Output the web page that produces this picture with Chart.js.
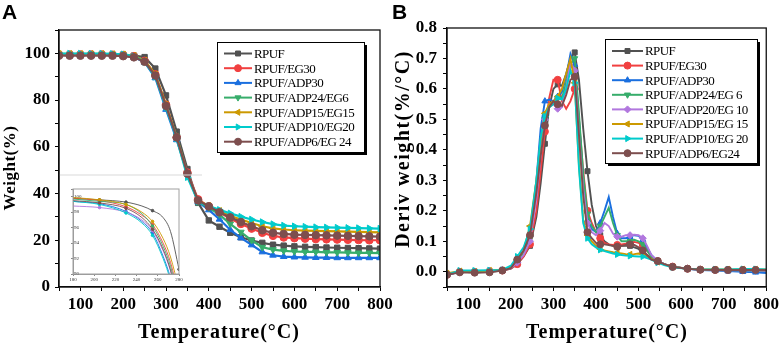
<!DOCTYPE html>
<html>
<head>
<meta charset="utf-8">
<script src="https://cdn.jsdelivr.net/npm/chart.js@4.4.1/dist/chart.umd.min.js"></script>
<style>
  body { margin: 0; background: #fff; }
  #wrap { position: relative; width: 782px; height: 349px; }
  #wrap canvas { position: absolute; left: 0; top: 0; }
  .panel { position: absolute; top: 1px; font: bold 21px "Liberation Sans", Arial, sans-serif; line-height: 21px; color: #000; }
</style>
</head>
<body>
<div id="wrap">
  <canvas id="chartA" width="782" height="349"></canvas>
  <canvas id="chartB" width="782" height="349"></canvas>
  <canvas id="chartInset" width="782" height="349"></canvas>
  <div class="panel" style="left:2px">A</div>
  <div class="panel" style="left:392px">B</div>
</div>
<script>
// ---- panel A: weight (%) vs temperature ----
const tempA = [50, 75, 100, 125, 150, 175, 200, 225, 250, 275, 300, 325, 350, 375, 400, 425, 450, 475, 500, 525, 550, 575, 600, 625, 650, 675, 700, 725, 750, 775, 800];
const rpufA  = [99.4, 99.4, 99.5, 99.5, 99.5, 99.5, 99.4, 99.0, 98.4, 93.5, 82, 66.5, 50.5, 36, 28.5, 25.8, 23.2, 21.3, 19.9, 18.9, 18.1, 17.7, 17.4, 17.2, 17.1, 16.9, 16.8, 16.7, 16.6, 16.5, 16.4];
const eg30A  = [99.5, 99.5, 99.5, 99.5, 99.5, 99.4, 99.3, 98.8, 96.8, 91, 78, 64, 49, 37.5, 34.5, 32, 29.3, 27, 25, 23.2, 21.9, 21.2, 20.9, 20.7, 20.5, 20.4, 20.3, 20.2, 20.1, 20, 20];
const adp30A = [99.3, 99.3, 99.3, 99.3, 99.3, 99.2, 99.1, 98.4, 96.2, 89.5, 76, 63, 48.5, 36.5, 33, 29, 24.5, 21, 18, 15, 13.6, 13, 12.8, 12.7, 12.6, 12.6, 12.5, 12.5, 12.5, 12.5, 12.5];
const adp24A = [99.6, 99.6, 99.6, 99.6, 99.5, 99.5, 99.3, 98.8, 96.6, 90.5, 77, 64.5, 48.5, 36.5, 34, 31, 27, 23.5, 20, 17, 16, 15.5, 15.2, 15, 15, 14.8, 14.8, 14.7, 14.6, 14.6, 14.5];
const adp15A = [99.8, 99.8, 99.8, 99.8, 99.8, 99.7, 99.6, 99, 96.9, 91, 78, 64, 48, 37, 34.7, 32.6, 30.5, 28.9, 27.4, 26, 25.1, 24.6, 24.3, 24.1, 24, 23.9, 23.8, 23.7, 23.6, 23.5, 23.4];
const adp10A = [99.9, 99.9, 99.9, 99.9, 99.9, 99.8, 99.6, 98.8, 96.4, 90, 77, 63.5, 47, 36.5, 34.6, 33, 31.5, 30.1, 28.9, 27.8, 26.9, 26.3, 26, 25.8, 25.6, 25.5, 25.4, 25.3, 25.2, 25.1, 25];
const adp6A  = [99, 99, 99, 99, 99, 99, 98.8, 98.3, 96.4, 90.5, 77.5, 64, 48.5, 37, 34.5, 32, 29.8, 27.8, 26, 24.3, 23.2, 22.7, 22.4, 22.3, 22.2, 22.1, 22, 21.9, 21.8, 21.7, 21.6];
const namesA = ["RPUF", "RPUF/EG30", "RPUF/ADP30", "RPUF/ADP24/EG6", "RPUF/ADP15/EG15", "RPUF/ADP10/EG20", "RPUF/ADP6/EG 24"];

// ---- inset of panel A (180-280 °C) ----
const tempI   = [180, 205, 230, 245, 255, 265, 272, 280];
const rpufI   = [99.8, 99.6, 99.3, 98.8, 98.2, 97.3, 95.5, 90.6];
const eg30I   = [99.8, 99.5, 98.7, 97.6, 96.4, 94.0, 91.5, 87];
const adp30I  = [99.4, 99.1, 98.1, 96.8, 95.3, 92.3, 89.5, 85];
const adp24I  = [99.7, 99.4, 99.0, 97.8, 96.2, 93.6, 91.0, 86.5];
const adp20I  = [98.8, 98.6, 98.0, 97.0, 95.6, 93.0, 90.4, 86];
const adp15I  = [99.9, 99.6, 99.0, 98.0, 96.8, 94.6, 92.2, 88];
const adp10I  = [99.4, 99.0, 97.9, 96.6, 95.0, 92.0, 89.2, 85];
const adp6I   = [99.5, 99.2, 98.5, 97.3, 95.8, 93.2, 90.5, 86];
const marksI  = [205, 230, 255, 280];

// ---- panel B: derivative weight vs temperature ----
const tempB = [50, 80, 115, 150, 180, 200, 215, 230, 245, 260, 270, 280, 290, 300, 310, 320, 330, 340, 350, 360, 370, 380, 390, 400, 410, 420, 430, 440, 450, 460, 470, 480, 490, 500, 510, 520, 530, 545, 560, 580, 615, 645, 680, 710, 745, 775, 800];
const rpufB  = [-0.008, 0, -0.002, 0, 0.004, 0.01, 0.025, 0.05, 0.085, 0.18, 0.29, 0.42, 0.54, 0.6, 0.615, 0.61, 0.65, 0.7, 0.72, 0.63, 0.47, 0.33, 0.22, 0.15, 0.12, 0.1, 0.09, 0.085, 0.085, 0.085, 0.085, 0.085, 0.08, 0.075, 0.065, 0.055, 0.045, 0.035, 0.025, 0.017, 0.01, 0.007, 0.006, 0.005, 0.004, 0.004, 0.003];
const eg30B  = [-0.01, 0, 0, 0.002, 0.004, 0.01, 0.025, 0.05, 0.09, 0.2, 0.33, 0.46, 0.57, 0.63, 0.63, 0.56, 0.535, 0.56, 0.6, 0.5, 0.33, 0.2, 0.16, 0.13, 0.11, 0.095, 0.09, 0.088, 0.088, 0.09, 0.092, 0.095, 0.098, 0.095, 0.088, 0.07, 0.05, 0.035, 0.025, 0.017, 0.01, 0.007, 0.006, 0.006, 0.005, 0.005, 0.004];
const adp30B = [-0.01, 0, 0, 0.002, 0.005, 0.012, 0.035, 0.06, 0.12, 0.3, 0.47, 0.56, 0.565, 0.56, 0.575, 0.59, 0.64, 0.715, 0.68, 0.5, 0.3, 0.17, 0.14, 0.13, 0.16, 0.2, 0.245, 0.18, 0.125, 0.11, 0.11, 0.115, 0.12, 0.118, 0.105, 0.08, 0.055, 0.035, 0.025, 0.016, 0.01, 0.006, 0.004, 0.002, 0, -0.002, -0.004];
const adp24B = [-0.008, 0, 0, 0.002, 0.005, 0.012, 0.035, 0.06, 0.11, 0.26, 0.4, 0.5, 0.54, 0.55, 0.57, 0.57, 0.62, 0.68, 0.7, 0.52, 0.32, 0.19, 0.15, 0.13, 0.15, 0.18, 0.21, 0.16, 0.12, 0.1, 0.1, 0.1, 0.105, 0.1, 0.09, 0.07, 0.05, 0.035, 0.025, 0.016, 0.01, 0.007, 0.006, 0.005, 0.005, 0.004, 0.004];
const adp20B = [-0.01, 0, 0, 0.002, 0.005, 0.012, 0.03, 0.055, 0.1, 0.24, 0.38, 0.5, 0.55, 0.55, 0.535, 0.54, 0.6, 0.69, 0.66, 0.45, 0.27, 0.16, 0.13, 0.12, 0.135, 0.16, 0.15, 0.125, 0.115, 0.115, 0.12, 0.12, 0.122, 0.12, 0.11, 0.085, 0.055, 0.035, 0.025, 0.016, 0.01, 0.007, 0.006, 0.005, 0.005, 0.005, 0.004];
const adp15B = [-0.005, 0.002, 0, 0.004, 0.006, 0.015, 0.04, 0.07, 0.15, 0.3, 0.43, 0.52, 0.55, 0.56, 0.575, 0.6, 0.65, 0.7, 0.62, 0.35, 0.17, 0.12, 0.1, 0.085, 0.075, 0.07, 0.067, 0.064, 0.062, 0.06, 0.058, 0.057, 0.058, 0.06, 0.058, 0.05, 0.042, 0.032, 0.024, 0.016, 0.01, 0.008, 0.008, 0.008, 0.008, 0.008, 0.008];
const adp10B = [-0.01, 0.004, 0.004, 0.005, 0.006, 0.02, 0.05, 0.08, 0.14, 0.3, 0.44, 0.51, 0.54, 0.55, 0.57, 0.565, 0.6, 0.66, 0.62, 0.34, 0.16, 0.11, 0.09, 0.08, 0.072, 0.068, 0.064, 0.06, 0.057, 0.055, 0.053, 0.052, 0.051, 0.05, 0.05, 0.045, 0.04, 0.03, 0.022, 0.015, 0.01, 0.008, 0.008, 0.008, 0.009, 0.009, 0.008];
const adp6B  = [-0.01, -0.002, -0.003, -0.002, 0.004, 0.012, 0.04, 0.07, 0.12, 0.26, 0.38, 0.48, 0.54, 0.56, 0.55, 0.545, 0.58, 0.63, 0.64, 0.45, 0.25, 0.13, 0.11, 0.095, 0.09, 0.09, 0.088, 0.085, 0.082, 0.085, 0.088, 0.09, 0.088, 0.08, 0.07, 0.055, 0.04, 0.035, 0.025, 0.016, 0.01, 0.007, 0.006, 0.006, 0.006, 0.006, 0.006];
const marksB = [50, 80, 115, 150, 180, 215, 245, 280, 310, 350, 380, 410, 450, 480, 510, 545, 580, 615, 645, 680, 710, 745, 775];
const namesB = ["RPUF", "RPUF/EG30", "RPUF/ADP30", "RPUF/ADP24/EG 6", "RPUF/ADP20/EG 10", "RPUF/ADP15/EG 15", "RPUF/ADP10/EG 20", "RPUF/ADP6/EG24"];

// tick labels
const xTickLabels = [100, 200, 300, 400, 500, 600, 700, 800];
const yTickLabelsA = [0, 20, 40, 60, 80, 100];
const yTickLabelsB = ["0.0", "0.1", "0.2", "0.3", "0.4", "0.5", "0.6", "0.7", "0.8"];

// Origin "bright" colours + marker shapes
const look = {
  rpuf:  ["#515151", "rect", 0],
  eg30:  ["#F14040", "circle", 0],
  adp30: ["#1A6FDF", "triangle", 0],
  adp24: ["#37AD6B", "triangle", 180],
  adp20: ["#B177DE", "rectRot", 0],
  adp15: ["#CC9900", "triangle", 270],
  adp10: ["#00CBCC", "triangle", 90],
  adp6:  ["#7D4E4E", "circle", 0]
};

function series(label, key, xs, ys, radius, width) {
  const [c, style, rot] = look[key];
  return {
    label: label, borderColor: c, backgroundColor: c,
    pointBackgroundColor: c, pointBorderColor: c,
    pointStyle: style, pointRotation: rot,
    borderWidth: width, pointBorderWidth: 1, pointRadius: radius,
    data: xs.map((x, i) => ({x: x, y: ys[i]}))
  };
}
function stack(list) {
  list.forEach((d, i) => { d.order = list.length - i; });
  return list;
}

const serif = '"Liberation Serif", "Times New Roman", serif';

// frame around plot area (and the faint guide line in panel A)
const frame = {
  id: 'frame',
  afterDraw(chart, args, o) {
    const {ctx, chartArea: a} = chart;
    ctx.save();
    if (o.guide) {
      ctx.strokeStyle = '#d9d9d9';
      ctx.lineWidth = 1;
      ctx.beginPath();
      ctx.moveTo(a.left, o.guide[1]);
      ctx.lineTo(o.guide[0], o.guide[1]);
      ctx.stroke();
    }
    ctx.strokeStyle = o.color || '#111';
    ctx.lineWidth = o.width || 1.3;
    ctx.strokeRect(a.left, a.top, a.right - a.left, a.bottom - a.top);
    ctx.restore();
  }
};

// boxed legend with drop shadow, like Origin
const boxLegend = {
  id: 'boxLegend',
  afterDraw(chart, args, o) {
    if (!o.box) return;
    const ctx = chart.ctx;
    const [x, y, w, h] = o.box;
    ctx.save();
    ctx.fillStyle = '#000';
    ctx.fillRect(x + 3, y + 3, w, h);
    ctx.fillStyle = '#fff';
    ctx.fillRect(x, y, w, h);
    ctx.strokeStyle = '#000';
    ctx.lineWidth = 1;
    ctx.strokeRect(x + 0.5, y + 0.5, w, h);
    ctx.font = '13px ' + serif;
    ctx.letterSpacing = '-0.6px';
    ctx.textBaseline = 'middle';
    chart.data.datasets.forEach((ds, i) => {
      const ry = o.rowY + i * o.rowStep;
      ctx.strokeStyle = ds.borderColor;
      ctx.lineWidth = 2;
      ctx.beginPath();
      ctx.moveTo(o.lineX[0], ry);
      ctx.lineTo(o.lineX[1], ry);
      ctx.stroke();
      ctx.fillStyle = ds.borderColor;
      ctx.lineWidth = 1;
      Chart.helpers.drawPoint(ctx, {pointStyle: ds.pointStyle, rotation: ds.pointRotation, radius: 3.5, borderWidth: 1}, (o.lineX[0] + o.lineX[1]) / 2, ry);
      ctx.fillStyle = '#000';
      ctx.fillText(ds.label, o.textX, ry + 1);
    });
    ctx.restore();
  }
};

// axis titles with letter spacing
const axisTitles = {
  id: 'axisTitles',
  afterDraw(chart, args, o) {
    if (!o.xText) return;
    const ctx = chart.ctx;
    ctx.save();
    ctx.fillStyle = '#000';
    ctx.textAlign = 'center';
    ctx.textBaseline = 'middle';
    ctx.font = 'bold 20px ' + serif;
    ctx.letterSpacing = '1px';
    ctx.fillText(o.xText, o.xPos[0], o.xPos[1]);
    ctx.font = 'bold ' + o.ySize + 'px ' + serif;
    ctx.letterSpacing = o.ySpacing;
    ctx.translate(o.yPos[0], o.yPos[1]);
    ctx.rotate(-Math.PI / 2);
    ctx.fillText(o.yText, 0, 0);
    ctx.restore();
  }
};

const tickFont = {family: serif, size: 17, weight: 'bold'};
const axisGrid = {display: true, drawOnChartArea: false, drawTicks: true, tickLength: 4, color: '#000', lineWidth: 1};
const axisBorder = {display: true, color: '#000', width: 1.3};

function xAxis() {
  return {
    type: 'linear', min: 50, max: 800,
    grid: axisGrid, border: axisBorder,
    ticks: {
      stepSize: 50, autoSkip: false, maxRotation: 0, padding: 3, color: '#000', font: tickFont,
      callback: v => xTickLabels.includes(v) ? String(v) : ''
    },
    afterFit(scale) { scale.height = 62; }
  };
}

// ---- chart A ----
new Chart(document.getElementById('chartA'), {
  type: 'line',
  data: {
    datasets: stack([
      series(namesA[0], 'rpuf', tempA, rpufA, 3.8, 2.2),
      series(namesA[1], 'eg30', tempA, eg30A, 3.8, 2.2),
      series(namesA[2], 'adp30', tempA, adp30A, 3.8, 2.2),
      series(namesA[3], 'adp24', tempA, adp24A, 3.8, 2.2),
      series(namesA[4], 'adp15', tempA, adp15A, 3.8, 2.2),
      series(namesA[5], 'adp10', tempA, adp10A, 3.8, 2.2),
      series(namesA[6], 'adp6', tempA, adp6A, 3.8, 2.2)
    ])
  },
  options: {
    responsive: false, devicePixelRatio: 1, animation: false,
    layout: {padding: {left: 0, top: 30, right: 402, bottom: 0}},
    scales: {
      x: xAxis(),
      y: {
        type: 'linear', min: 0, max: 110,
        grid: axisGrid, border: axisBorder,
        ticks: {
          stepSize: 10, autoSkip: false, padding: 5, color: '#000', font: tickFont,
          callback: v => yTickLabelsA.includes(v) ? String(v) : ''
        },
        afterFit(scale) { scale.width = 59; }
      }
    },
    plugins: {
      legend: {display: false}, tooltip: {enabled: false},
      frame: {guide: [202, 175]},
      boxLegend: {box: [217, 42, 147, 110], rowY: 53.5, rowStep: 14.7, lineX: [224, 252], textX: 254},
      axisTitles: {xText: 'Temperature(°C)', xPos: [219, 333], yText: 'Weight(%)', yPos: [11, 168], ySize: 17, ySpacing: '0.5px'}
    }
  },
  plugins: [frame, boxLegend, axisTitles]
});

// ---- chart B ----
const bR = ctx => marksB.includes(tempB[ctx.dataIndex]) ? 3.5 : 0;
new Chart(document.getElementById('chartB'), {
  type: 'line',
  data: {
    datasets: stack([
      series(namesB[0], 'rpuf', tempB, rpufB, bR, 1.9),
      series(namesB[1], 'eg30', tempB, eg30B, bR, 1.9),
      series(namesB[2], 'adp30', tempB, adp30B, bR, 1.9),
      series(namesB[3], 'adp24', tempB, adp24B, bR, 1.9),
      series(namesB[4], 'adp20', tempB, adp20B, bR, 1.9),
      series(namesB[5], 'adp15', tempB, adp15B, bR, 1.9),
      series(namesB[6], 'adp10', tempB, adp10B, bR, 1.9),
      series(namesB[7], 'adp6', tempB, adp6B, bR, 1.9)
    ])
  },
  options: {
    responsive: false, devicePixelRatio: 1, animation: false,
    layout: {padding: {left: 390, top: 28, right: 15, bottom: 0}},
    scales: {
      x: xAxis(),
      y: {
        type: 'linear', min: -0.05, max: 0.8,
        grid: axisGrid, border: axisBorder,
        ticks: {
          stepSize: 0.05, autoSkip: false, padding: 6, color: '#000', font: tickFont,
          callback: v => {
            const r = Math.round(v * 100);
            return (r >= 0 && r % 10 === 0) ? yTickLabelsB[r / 10] : '';
          }
        },
        afterFit(scale) { scale.width = 57; }
      }
    },
    plugins: {
      legend: {display: false}, tooltip: {enabled: false},
      boxLegend: {box: [605, 39, 152, 124], rowY: 51, rowStep: 14.6, lineX: [612, 643], textX: 645},
      axisTitles: {xText: 'Temperature(°C)', xPos: [607, 333], yText: 'Deriv weight(%/°C)', yPos: [404, 149], ySize: 20, ySpacing: '1.5px'}
    }
  },
  plugins: [frame, boxLegend, axisTitles]
});

// ---- inset ----
const iR = ctx => marksI.includes(tempI[ctx.dataIndex]) ? 1.3 : 0;
const insetSets = stack([
  series('RPUF', 'rpuf', tempI, rpufI, iR, 0.9),
  series('RPUF/EG30', 'eg30', tempI, eg30I, iR, 0.9),
  series('RPUF/ADP30', 'adp30', tempI, adp30I, iR, 0.9),
  series('RPUF/ADP24/EG6', 'adp24', tempI, adp24I, iR, 0.9),
  series('RPUF/ADP20/EG10', 'adp20', tempI, adp20I, iR, 0.9),
  series('RPUF/ADP15/EG15', 'adp15', tempI, adp15I, iR, 0.9),
  series('RPUF/ADP10/EG20', 'adp10', tempI, adp10I, iR, 0.9),
  series('RPUF/ADP6/EG24', 'adp6', tempI, adp6I, iR, 0.9)
]);
insetSets.forEach(d => { d.cubicInterpolationMode = 'monotone'; d.pointStyle = 'circle'; });
const tinyFont = {family: serif, size: 5};
new Chart(document.getElementById('chartInset'), {
  type: 'line',
  data: {datasets: insetSets},
  options: {
    responsive: false, devicePixelRatio: 1, animation: false,
    layout: {padding: {left: 73, top: 189, right: 603, bottom: 0}},
    scales: {
      x: {
        type: 'linear', min: 180, max: 280,
        grid: {display: true, drawOnChartArea: false, tickLength: 2, color: '#888'},
        border: {display: true, color: '#999', width: 1},
        ticks: {stepSize: 20, autoSkip: false, maxRotation: 0, padding: 1, color: '#333', font: tinyFont},
        afterFit(scale) { scale.height = 75; }
      },
      y: {
        type: 'linear', min: 90, max: 101,
        grid: {display: true, drawOnChartArea: false, tickLength: 2, color: '#888'},
        border: {display: true, color: '#999', width: 1},
        ticks: {
          stepSize: 2, autoSkip: false, mirror: true, padding: 1, color: '#333', font: tinyFont,
          callback: v => (v <= 100 && v % 2 === 0) ? String(v) : ''
        },
        afterFit(scale) { scale.width = 0; }
      }
    },
    plugins: {
      legend: {display: false}, tooltip: {enabled: false},
      frame: {color: '#a0a0a0', width: 1}
    }
  },
  plugins: [frame]
});
</script>
</body>
</html>
